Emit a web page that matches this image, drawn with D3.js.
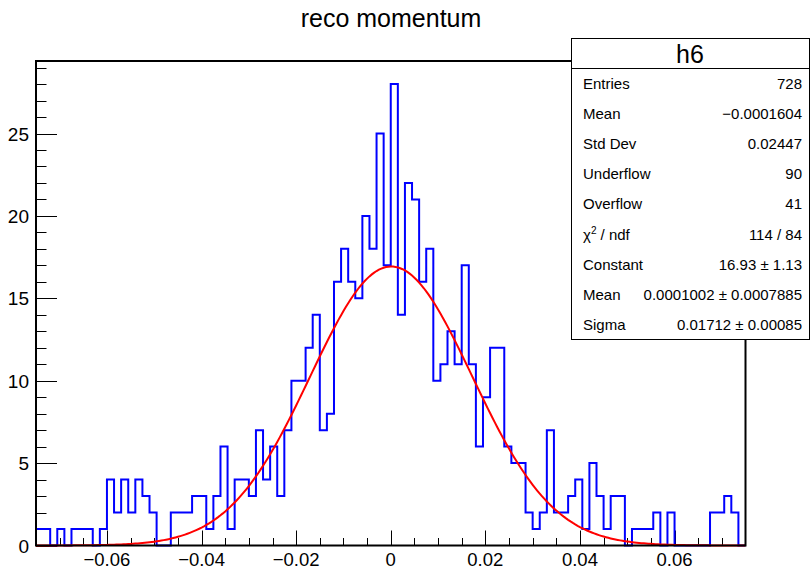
<!DOCTYPE html>
<html>
<head>
<meta charset="utf-8">
<script src="https://cdn.jsdelivr.net/npm/d3@7"></script>
<style>
  body { margin: 0; background: #fff; }
  svg { display: block; font-family: "Liberation Sans", Arial, Helvetica, sans-serif; }
</style>
</head>
<body>
<div class="container"></div>
<script>
// histogram h6: 100 bins between -0.075 and 0.075
var xRange = [-0.075, 0.075];
var counts = [
	1, 1, 0, 1, 0, 1, 1, 1, 0, 1,
	4, 2, 4, 2, 4, 3, 2, 0, 0, 2,
	2, 2, 3, 3, 1, 3, 6, 1, 4, 4,
	3, 7, 4, 6, 3, 7, 10, 10, 12, 14,
	7, 8, 16, 18, 16, 15, 20, 18, 25, 17,
	28, 14, 22, 21, 16, 18, 10, 11, 13, 11,
	17, 11, 6, 9, 12, 12, 6, 5, 5, 2,
	1, 2, 7, 2, 2, 3, 4, 1, 5, 3,
	1, 3, 3, 0, 1, 1, 1, 2, 0, 2,
	0, 0, 0, 0, 0, 2, 2, 3, 2, 0
];

// gaus fit: constant, mean, sigma
var fitParams = [16.93, 0.0001002, 0.01712];

var xTicks = [-0.06, -0.04, -0.02, 0, 0.02, 0.04, 0.06];
var yTicks = [0, 5, 10, 15, 20, 25];

var statNames = ["Entries", "Mean", "Std Dev", "Underflow", "Overflow", "chi2", "Constant", "Mean", "Sigma"];
var statValues = ["728", "\u22120.0001604", "0.02447", "90", "41", "114 / 84", "16.93 \u00b1 1.13", "0.0001002 \u00b1 0.0007885", "0.01712 \u00b1 0.00085"];

var iWidth = 810, iHeight = 569;
var frame = { left: 36, right: 745.5, top: 61, bottom: 545.5 };

var oSVG = d3.select(".container")
	.append("svg")
	.attr("width", iWidth)
	.attr("height", iHeight);

var x = d3.scaleLinear().domain(xRange).range([frame.left, frame.right]);
var y = d3.scaleLinear().domain([0, 29.4]).range([frame.bottom, frame.top]);

var binWidth = (xRange[1] - xRange[0]) / counts.length;

// title
oSVG.append("text")
	.attr("x", 391)
	.attr("y", 27)
	.attr("text-anchor", "middle")
	.style("font-size", "25px")
	.text("reco momentum");

// ticks
var yMinor = d3.range(0, 30, 1);
oSVG.append("g").selectAll("line")
	.data(yMinor)
	.enter()
	.append("line")
	.attr("x1", frame.left)
	.attr("x2", function(d) { return frame.left + (d % 5 === 0 ? 21 : 10.5); })
	.attr("y1", function(d) { return Math.round(y(d)) + 0.5; })
	.attr("y2", function(d) { return Math.round(y(d)) + 0.5; })
	.attr("stroke", "#000")
	.attr("stroke-width", 1);

var xMinor = d3.range(-14, 15).map(function(i) { return i * 0.005; });
oSVG.append("g").selectAll("line")
	.data(xMinor)
	.enter()
	.append("line")
	.attr("x1", function(d) { return Math.round(x(d)) + 0.5; })
	.attr("x2", function(d) { return Math.round(x(d)) + 0.5; })
	.attr("y1", frame.bottom)
	.attr("y2", function(d) {
		var major = Math.abs(Math.round(d * 1000) % 20) === 0;
		return frame.bottom - (major ? 15 : 7.5);
	})
	.attr("stroke", "#000")
	.attr("stroke-width", 1);

// tick labels
oSVG.append("g").selectAll("text")
	.data(yTicks)
	.enter()
	.append("text")
	.attr("x", frame.left - 7)
	.attr("y", function(d) { return y(d) + 7; })
	.attr("text-anchor", "end")
	.style("font-size", "19px")
	.text(function(d) { return d; });

oSVG.append("g").selectAll("text")
	.data(xTicks)
	.enter()
	.append("text")
	.attr("x", function(d) { return x(d); })
	.attr("y", 566)
	.attr("text-anchor", "middle")
	.style("font-size", "18.5px")
	.text(function(d) { return d3.format("")(d).replace("-", "\u2212"); });

// histogram outline
var histPts = [];
counts.forEach(function(c, i) {
	var lo = xRange[0] + i * binWidth;
	histPts.push([lo, c], [lo + binWidth, c]);
});
histPts.push([xRange[1], 0]);

var line = d3.line()
	.x(function(d) { return x(d[0]); })
	.y(function(d) { return y(d[1]); });

oSVG.append("path")
	.datum(histPts)
	.attr("d", line)
	.attr("fill", "none")
	.attr("stroke", "#0000ff")
	.attr("stroke-width", 2);

// fit curve
var gaus = function(v) {
	var t = (v - fitParams[1]) / fitParams[2];
	return fitParams[0] * Math.exp(-0.5 * t * t);
};
var fitPts = d3.range(0, 301).map(function(i) {
	var v = xRange[0] + i * (xRange[1] - xRange[0]) / 300;
	return [v, gaus(v)];
});
oSVG.append("path")
	.datum(fitPts)
	.attr("d", line)
	.attr("fill", "none")
	.attr("stroke", "#ff0000")
	.attr("stroke-width", 2);

// frame
oSVG.append("rect")
	.attr("x", frame.left)
	.attr("y", frame.top)
	.attr("width", frame.right - frame.left)
	.attr("height", frame.bottom - frame.top)
	.attr("fill", "none")
	.attr("stroke", "#000")
	.attr("stroke-width", 2);

// stats box
var box = { x: 571, y: 38, w: 238, h: 301 };
var stats = oSVG.append("g");
stats.append("rect")
	.attr("x", box.x + 0.5)
	.attr("y", box.y + 0.5)
	.attr("width", box.w)
	.attr("height", box.h)
	.attr("fill", "#fff")
	.attr("stroke", "#000")
	.attr("stroke-width", 1);
stats.append("line")
	.attr("x1", box.x)
	.attr("x2", box.x + box.w)
	.attr("y1", 68.5)
	.attr("y2", 68.5)
	.attr("stroke", "#000");
stats.append("text")
	.attr("x", box.x + box.w / 2)
	.attr("y", 63)
	.attr("text-anchor", "middle")
	.style("font-size", "25px")
	.text("h6");

var rows = stats.selectAll("g.row")
	.data(statNames)
	.enter()
	.append("g")
	.attr("transform", function(d, i) { return "translate(0," + (89 + i * 30.1) + ")"; });

rows.append("text")
	.attr("x", 583)
	.style("font-size", "15px")
	.each(function(d) {
		var t = d3.select(this);
		if (d === "chi2") {
			t.append("tspan").text("\u03c7");
			t.append("tspan").attr("dy", -6).style("font-size", "10px").text("2");
			t.append("tspan").attr("dy", 6).text(" / ndf");
		} else {
			t.text(d);
		}
	});

rows.append("text")
	.attr("x", 802)
	.attr("text-anchor", "end")
	.style("font-size", "15px")
	.text(function(d, i) { return statValues[i]; });
</script>
</body>
</html>
